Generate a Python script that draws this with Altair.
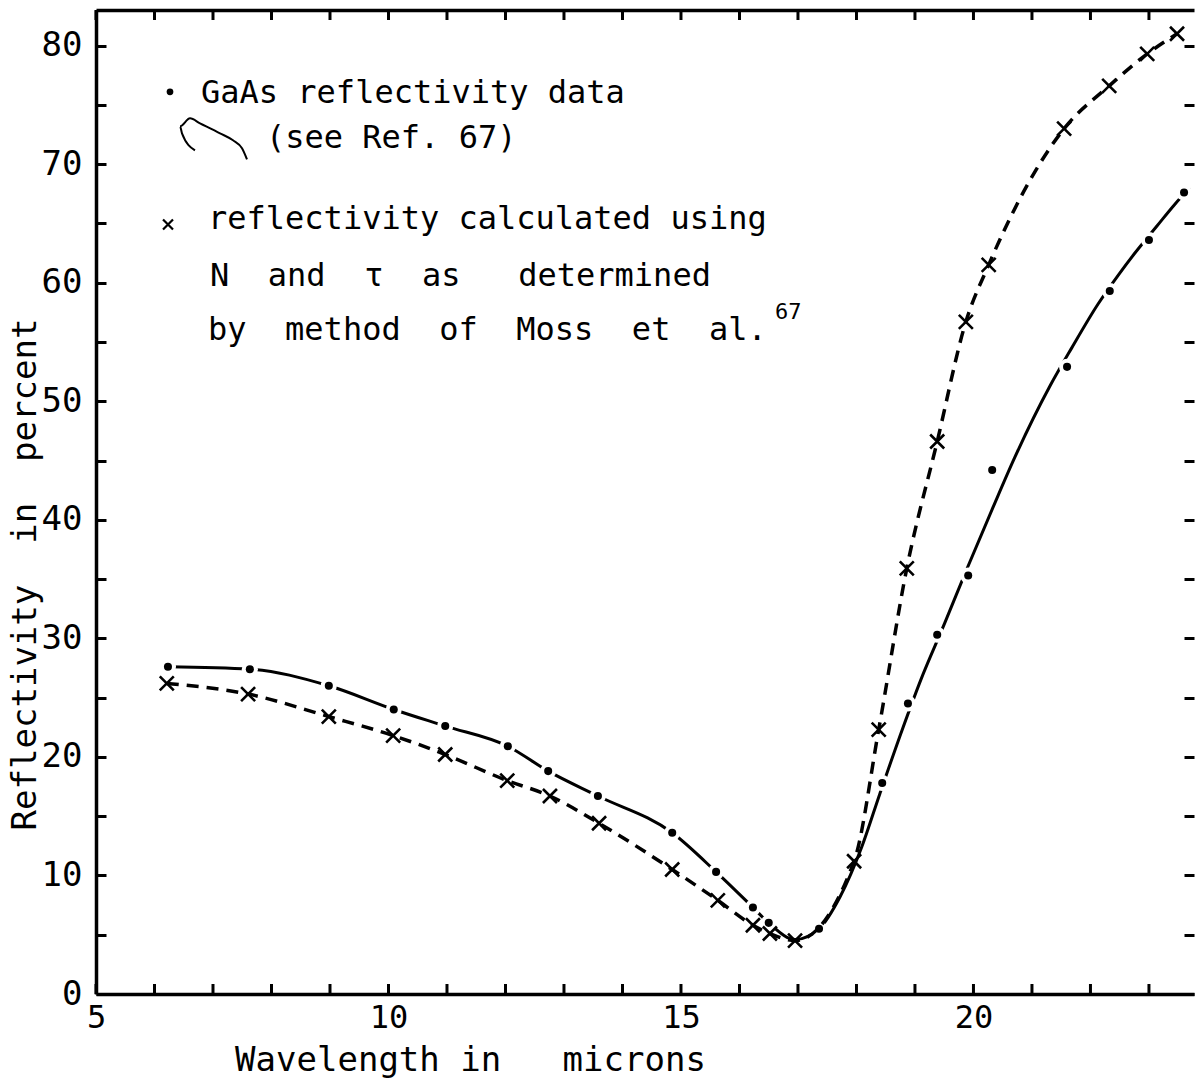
import altair as alt
import pandas as pd

# ---- data ----
# x markers: reflectivity calculated (dashed curve)
calc_wl = [6.21, 7.60, 8.98, 10.08, 10.97, 12.03, 12.76, 13.60, 14.85, 15.63, 16.23, 16.52,
           16.95, 17.96, 18.38, 18.86, 19.38, 19.87, 20.26, 21.55, 22.32, 22.97, 23.48]
calc_r = [26.2, 25.3, 23.4, 21.8, 20.2, 18.0, 16.7, 14.4, 10.5, 7.9, 5.8, 5.1,
          4.5, 11.2, 22.3, 35.9, 46.6, 56.7, 61.5, 73.0, 76.6, 79.3, 81.0]

# dots: GaAs reflectivity data
data_wl = [6.23, 7.63, 8.98, 10.09, 10.97, 12.04, 12.73, 13.58, 14.85, 15.60, 16.23, 16.50,
           17.36, 18.44, 18.88, 19.38, 19.91, 20.32, 21.60, 22.33, 23.00, 23.60]
data_r = [27.6, 27.4, 26.0, 24.0, 22.6, 20.9, 18.8, 16.7, 13.6, 10.3, 7.3, 6.0,
          5.5, 17.8, 24.5, 30.3, 35.3, 44.2, 52.9, 59.3, 63.6, 67.6]

# drawn curve (see Ref. 67)
curve_wl = [6.23, 7.63, 8.98, 10.09, 10.97, 12.04, 12.73, 13.58, 14.85, 15.60, 16.23, 16.50,
            16.95, 17.36, 17.72, 18.09, 18.40, 18.79, 19.10, 19.51, 19.90, 20.33, 20.71,
            21.31, 21.68, 22.13, 22.47, 22.76, 23.14, 23.44, 23.70]
curve_r = [27.6, 27.4, 26.0, 24.0, 22.6, 20.9, 18.8, 16.7, 13.6, 10.3, 7.3, 6.0,
           4.6, 5.5, 8.2, 12.4, 16.9, 22.4, 26.5, 31.3, 36.0, 41.0, 45.3,
           51.3, 54.5, 58.2, 60.6, 62.5, 64.8, 66.6, 68.0]

x_labels = [5, 10, 15, 20]
x_ticks = list(range(5, 24))
y_labels = list(range(0, 90, 10))
y_ticks = list(range(0, 85, 5))
Y_MIN, Y_MAX = 0, 83
X_MIN, X_MAX = 5, 23.77

# legend annotation (in data units)
legend_lines = ["GaAs reflectivity data",
                "(see Ref. 67)",
                "reflectivity calculated using",
                "N\u00a0\u00a0and\u00a0\u00a0\u03c4\u00a0\u00a0as\u00a0\u00a0\u00a0determined",
                "by\u00a0\u00a0method\u00a0\u00a0of\u00a0\u00a0Moss\u00a0\u00a0et\u00a0\u00a0al."]
legend_wl = [6.795, 7.906, 6.915, 6.949, 6.915]
legend_r = [76.0, 72.2, 65.4, 60.6, 56.0]
sup_text = ["67"]
sup_wl = [16.607]
sup_r = [57.5]
legend_dot_wl = [6.265]
legend_dot_r = [76.1]
legend_x_wl = [6.231]
legend_x_r = [64.9]
squiggle_wl = [6.692, 6.470, 6.436, 6.607, 6.778, 7.120, 7.342, 7.496, 7.581]
squiggle_r = [71.16, 72.60, 73.19, 73.86, 73.44, 72.60, 72.01, 71.33, 70.40]

FONT = "DejaVu Sans Mono"
XPATH = "M-1,-1L1,1M1,-1L-1,1"
TICK_LEN = 10

calc_df = pd.DataFrame({"wl": calc_wl, "r": calc_r})
data_df = pd.DataFrame({"wl": data_wl, "r": data_r})
curve_df = pd.DataFrame({"wl": curve_wl, "r": curve_r})
text_df = pd.DataFrame({"wl": legend_wl, "r": legend_r, "t": legend_lines})
sup_df = pd.DataFrame({"wl": sup_wl, "r": sup_r, "t": sup_text})
ldot_df = pd.DataFrame({"wl": legend_dot_wl, "r": legend_dot_r})
lx_df = pd.DataFrame({"wl": legend_x_wl, "r": legend_x_r})
sq_df = pd.DataFrame({"wl": squiggle_wl, "r": squiggle_r, "i": list(range(len(squiggle_wl)))})
xt_df = pd.DataFrame({"wl": x_ticks})

xs = alt.Scale(domain=[X_MIN, X_MAX], nice=False, zero=False)
ys = alt.Scale(domain=[Y_MIN, Y_MAX], nice=False, zero=False)


def X(axis):
    return alt.X("wl:Q", scale=xs, axis=axis)


def Y(axis):
    return alt.Y("r:Q", scale=ys, axis=axis)


def tick_axis(orient, values):
    return alt.Axis(orient=orient, values=values, ticks=True, tickSize=TICK_LEN, tickWidth=3,
                    tickColor="black", domain=False, labels=False, grid=False,
                    title=None, offset=-TICK_LEN)


ax_bottom = alt.Axis(orient="bottom", values=x_labels, ticks=False, grid=False,
                     domain=True, domainColor="black", domainWidth=3.5,
                     labelFont=FONT, labelFontSize=32, labelColor="black",
                     labelPadding=8, labelFlush=False, labelOverlap=False,
                     labelBaseline="top",
                     title="Wavelength in\u00a0\u00a0\u00a0microns", titleFont=FONT,
                     titleFontSize=34, titleFontWeight="normal", titleColor="black",
                     titleX=374, titleY=66, titleAlign="center", titleBaseline="middle")
ax_left = alt.Axis(orient="left", values=y_labels, ticks=False, grid=False,
                   domain=True, domainColor="black", domainWidth=3.5,
                   labelFont=FONT, labelFontSize=34, labelColor="black",
                   labelPadding=14, labelFlush=False, labelOverlap=False,
                   title="Reflectivity\u00a0\u00a0in\u00a0\u00a0percent", titleFont=FONT,
                   titleFontSize=34, titleFontWeight="normal", titleColor="black",
                   titleAngle=270, titleX=-71, titleY=564, titleAlign="center",
                   titleBaseline="middle")
ax_top_domain = alt.Axis(orient="top", domain=True, domainColor="black", domainWidth=3.5,
                         ticks=False, labels=False, grid=False, title=None)

curve_line = alt.Chart(curve_df).mark_line(
    color="black", strokeWidth=3, interpolate="monotone", clip=True
).encode(x=X(ax_top_domain), y=Y(tick_axis("right", y_ticks)))

halos = alt.Chart(data_df).mark_point(
    shape="circle", filled=True, color="white", opacity=1, size=260, clip=True
).encode(x=X(None), y=Y(None))

dots = alt.Chart(data_df).mark_point(
    shape="circle", filled=True, color="black", opacity=1, size=65, clip=True
).encode(x=X(None), y=Y(None))

calc_line = alt.Chart(calc_df).mark_line(
    color="black", strokeWidth=3.5, strokeDash=[12, 8], interpolate="monotone", clip=True
).encode(x=X(ax_bottom), y=Y(ax_left))

calc_marks = alt.Chart(calc_df).mark_point(
    shape=XPATH, filled=False, color="black", strokeWidth=2.6, size=196, opacity=1, clip=True
).encode(x=X(None), y=Y(tick_axis("left", y_ticks)))

# inward ticks along the bottom and top frame
bottom_ticks = alt.Chart(xt_df).mark_rule(
    color="black", strokeWidth=3, y2Offset=-TICK_LEN
).encode(x=X(None), y=alt.YDatum(Y_MIN, scale=ys, axis=None), y2=alt.Y2Datum(Y_MIN))

top_ticks = alt.Chart(xt_df).mark_rule(
    color="black", strokeWidth=3, y2Offset=TICK_LEN
).encode(x=X(None), y=alt.YDatum(Y_MAX, scale=ys, axis=None), y2=alt.Y2Datum(Y_MAX))

legend_text = alt.Chart(text_df).mark_text(
    align="left", baseline="middle", font=FONT, fontSize=32, color="black"
).encode(x=X(None), y=Y(None), text="t:N")

sup = alt.Chart(sup_df).mark_text(
    align="left", baseline="middle", font=FONT, fontSize=22, color="black"
).encode(x=X(None), y=Y(None), text="t:N")

ldot = alt.Chart(ldot_df).mark_point(
    shape="circle", filled=True, color="black", opacity=1, size=45
).encode(x=X(None), y=Y(None))

lx = alt.Chart(lx_df).mark_point(
    shape=XPATH, filled=False, color="black", strokeWidth=2.2, size=100, opacity=1
).encode(x=X(None), y=Y(None))

squiggle = alt.Chart(sq_df).mark_line(
    color="black", strokeWidth=2, interpolate="monotone"
).encode(x=X(None), y=Y(None), order="i:Q")

chart = alt.layer(
    curve_line, halos, dots, calc_line, calc_marks, bottom_ticks, top_ticks,
    legend_text, sup, ldot, lx, squiggle
).resolve_axis(
    x="independent", y="independent"
).properties(
    width=1098, height=984,
    padding={"left": 96, "top": 10, "right": 1, "bottom": 90},
    autosize=alt.AutoSizeParams(type="none"),
    background="white",
).configure_view(strokeWidth=0)

chart.save("out.html", embed_options={"renderer": "svg", "actions": False})
